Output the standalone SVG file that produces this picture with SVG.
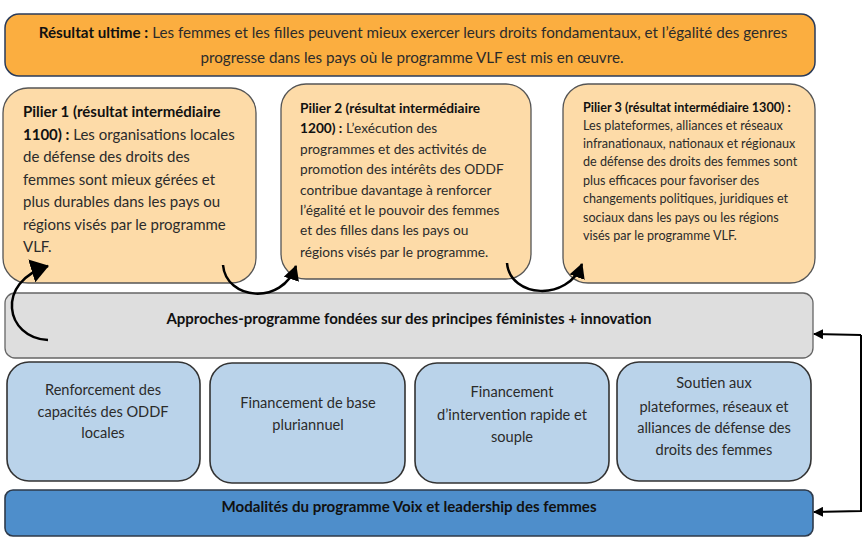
<svg xmlns="http://www.w3.org/2000/svg" width="866" height="555" viewBox="0 0 866 555">
<defs>
<style>
text{font-family:Lato,"Liberation Sans",sans-serif;fill:#2b2b2b}
.b{font-weight:bold;fill:#111}
.top{fill:#FBAE40;stroke:#2A3B5A;stroke-width:1.5}
.pil{fill:#FDDBA8;stroke:#555;stroke-width:1.3}
.grey{fill:#DEDEDE;stroke:#666;stroke-width:1.3}
.lb{fill:#BAD3EA;stroke:#333;stroke-width:1.6}
.db{fill:#4E8ECB;stroke:#2E3A4A;stroke-width:1.6}
.cv{fill:none;stroke:#000;stroke-width:2.5}
.ln{fill:none;stroke:#000;stroke-width:2}
.c{text-anchor:middle}
</style>
<marker id="big" markerUnits="userSpaceOnUse" markerWidth="20" markerHeight="24" refX="17" refY="12" orient="auto" viewBox="0 0 20 24"><path d="M0,0 L18,12 L0,24 Z" fill="#000"/></marker>
<marker id="mid" markerUnits="userSpaceOnUse" markerWidth="16" markerHeight="16" refX="14" refY="8" orient="auto" viewBox="0 0 16 16"><path d="M0,0 L15,8 L0,16 Z" fill="#000"/></marker>
<marker id="sm" markerUnits="userSpaceOnUse" markerWidth="10" markerHeight="10" refX="9" refY="5" orient="auto" viewBox="0 0 10 10"><path d="M0,0 L10,5 L0,10 Z" fill="#000"/></marker>
</defs>

<g id="resultat-ultime">
<rect class="top" x="5" y="14" width="810" height="62" rx="14"/>
<text x="413" y="38" class="c" font-size="15.2"><tspan class="b">Résultat ultime :</tspan> Les femmes et les filles peuvent mieux exercer leurs droits fondamentaux, et l’égalité des genres</text>
<text x="412" y="63" class="c" font-size="15.2">progresse dans les pays où le programme VLF est mis en œuvre.</text>
</g>

<g id="pilier1">
<rect class="pil" x="3" y="88" width="253" height="195" rx="25"/>
<text font-size="15"><tspan x="23" y="117" class="b">Pilier 1 (résultat intermédiaire</tspan><tspan x="23" y="140"><tspan class="b">1100) :</tspan> Les organisations locales</tspan><tspan x="23" y="162">de défense des droits des</tspan><tspan x="23" y="185">femmes sont mieux gérées et</tspan><tspan x="23" y="207">plus durables dans les pays ou</tspan><tspan x="23" y="230">régions visés par le programme</tspan><tspan x="23" y="252">VLF.</tspan></text>
</g>

<g id="pilier2">
<rect class="pil" x="281" y="84" width="250" height="195" rx="25"/>
<text font-size="13.7"><tspan x="300" y="113" class="b">Pilier 2 (résultat intermédiaire</tspan><tspan x="300" y="133"><tspan class="b">1200) :</tspan> L’exécution des</tspan><tspan x="300" y="154">programmes et des activités de</tspan><tspan x="300" y="174">promotion des intérêts des ODDF</tspan><tspan x="300" y="195">contribue davantage à renforcer</tspan><tspan x="300" y="215">l’égalité et le pouvoir des femmes</tspan><tspan x="300" y="235">et des filles dans les pays ou</tspan><tspan x="300" y="257">régions visés par le programme.</tspan></text>
</g>

<g id="pilier3">
<rect class="pil" x="563" y="84" width="252" height="199" rx="25"/>
<text font-size="12.6"><tspan x="583" y="112" class="b">Pilier 3 (résultat intermédiaire 1300) :</tspan><tspan x="583" y="130">Les plateformes, alliances et réseaux</tspan><tspan x="583" y="148">infranationaux, nationaux et régionaux</tspan><tspan x="583" y="166">de défense des droits des femmes sont</tspan><tspan x="583" y="185">plus efficaces pour favoriser des</tspan><tspan x="583" y="203">changements politiques, juridiques et</tspan><tspan x="583" y="222">sociaux dans les pays ou les régions</tspan><tspan x="583" y="240">visés par le programme VLF.</tspan></text>
</g>

<g id="approches">
<rect class="grey" x="5" y="293" width="808" height="65" rx="10"/>
<text x="409" y="324" class="c b" font-size="15">Approches-programme fondées sur des principes féministes + innovation</text>
</g>

<g id="renforcement">
<rect class="lb" x="7" y="362" width="193" height="119" rx="22"/>
<text class="c" font-size="14.6"><tspan x="103" y="395">Renforcement des</tspan><tspan x="103" y="417">capacités des ODDF</tspan><tspan x="103" y="438">locales</tspan></text>
</g>

<g id="financement-base">
<rect class="lb" x="210" y="363" width="195" height="120" rx="22"/>
<text class="c" font-size="14.6"><tspan x="308" y="408">Financement de base</tspan><tspan x="308" y="430">pluriannuel</tspan></text>
</g>

<g id="financement-rapide">
<rect class="lb" x="415" y="363" width="194" height="120" rx="22"/>
<text class="c" font-size="14.6"><tspan x="512" y="397">Financement</tspan><tspan x="512" y="420">d’intervention rapide et</tspan><tspan x="512" y="442">souple</tspan></text>
</g>

<g id="soutien">
<rect class="lb" x="617" y="362" width="194" height="119" rx="22"/>
<text class="c" font-size="14.6"><tspan x="714" y="388">Soutien aux</tspan><tspan x="714" y="412">plateformes, réseaux et</tspan><tspan x="714" y="433">alliances de défense des</tspan><tspan x="714" y="455">droits des femmes</tspan></text>
</g>

<g id="modalites">
<rect class="db" x="5" y="490" width="808" height="46" rx="8"/>
<text x="409" y="512" class="c b" font-size="15.1">Modalités du programme Voix et leadership des femmes</text>
</g>

<g id="connectors">
<path class="cv" d="M48,340 C 5,338 -5,282 48,266" marker-end="url(#big)"/>
<path class="cv" d="M223,265 C 226,300 282,306 296,266" marker-end="url(#mid)"/>
<path class="cv" d="M507,263 C 510,298 568,302 582,264" marker-end="url(#mid)"/>
<path class="ln" d="M861,335 L861,511 L814,512" marker-end="url(#sm)"/>
<path class="ln" d="M861,335 L814,334" marker-end="url(#sm)"/>
</g>
</svg>
